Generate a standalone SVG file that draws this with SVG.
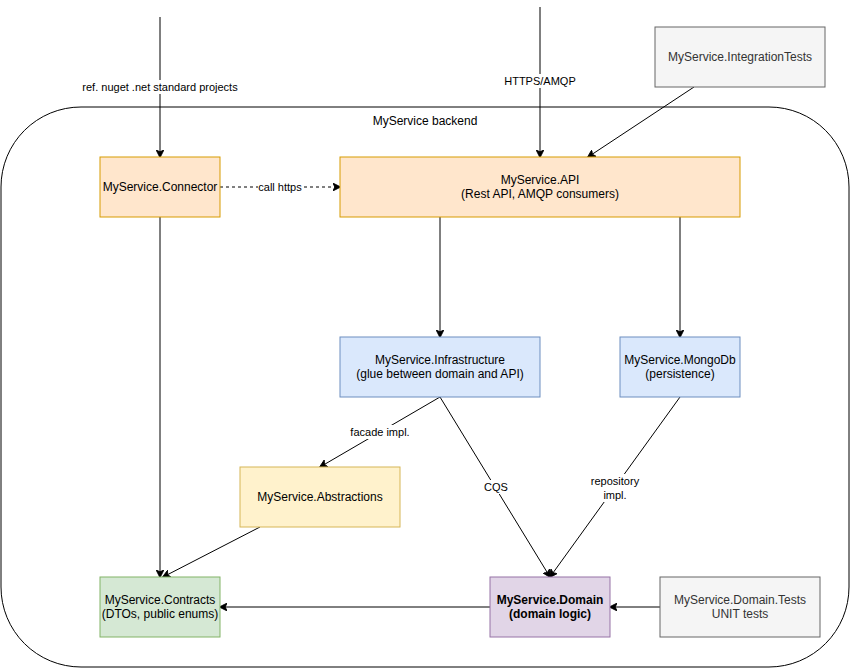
<svg xmlns="http://www.w3.org/2000/svg" width="851" height="668" viewBox="0 0 851 668">
<style>
text{font-family:"Liberation Sans",Arial,sans-serif;font-size:12px;fill:#000;text-anchor:middle}
text.s{font-size:11px}
.e{stroke:#000;stroke-width:1;fill:none;marker-end:url(#a)}
.lb{fill:#fff}
.or{fill:#ffe6cc;stroke:#d79b00}
.bl{fill:#dae8fc;stroke:#6c8ebf}
.ye{fill:#fff2cc;stroke:#d6b656}
.gr{fill:#d5e8d4;stroke:#82b366}
.pu{fill:#e1d5e7;stroke:#9673a6}
.gy{fill:#f5f5f5;stroke:#666666}
.gt{fill:#333333}
</style>
<defs>
<marker id="a" viewBox="0 0 10 10" refX="9" refY="5" markerWidth="8" markerHeight="8" markerUnits="userSpaceOnUse" orient="auto">
<path d="M0,0 L10,5 L0,10 L2.5,5 Z" fill="#000" stroke="#000"/>
</marker>
</defs>
<rect width="851" height="668" fill="#fff"/>
<g id="backend">
<rect x="1" y="107" width="848" height="560" rx="80" ry="80" fill="none" stroke="#000"/>
<text x="425" y="125">MyService backend</text>
</g>
<g id="connectors">
<path class="e" d="M160,17 L160,157"/>
<rect class="lb" x="82" y="80" width="156" height="14"/>
<text class="s" x="160" y="91">ref. nuget .net standard projects</text>
<path class="e" d="M540,7 L540,157"/>
<rect class="lb" x="504" y="74" width="72" height="14"/>
<text class="s" x="540" y="85">HTTPS/AMQP</text>
<path class="e" d="M694,87 L588,157"/>
<path class="e" d="M220,187 L340,187" stroke-dasharray="3 3"/>
<rect class="lb" x="258" y="180" width="44" height="14"/>
<text class="s" x="280" y="191">call https</text>
<path class="e" d="M440,217 L440,337"/>
<path class="e" d="M680,217 L680,337"/>
<path class="e" d="M160,217 L160,577"/>
<path class="e" d="M440,397 L320,467"/>
<rect class="lb" x="350" y="425" width="62" height="14"/>
<text class="s" x="380" y="436">facade impl.</text>
<path class="e" d="M440,397 L550,577"/>
<rect class="lb" x="483" y="480" width="26" height="14"/>
<text class="s" x="496" y="491">CQS</text>
<path class="e" d="M680,397 L550,577"/>
<rect class="lb" x="591" y="474" width="50" height="28"/>
<text class="s" x="615" y="485">repository</text>
<text class="s" x="615" y="499">impl.</text>
<path class="e" d="M260,527 L163,577"/>
<path class="e" d="M490,607 L220,607"/>
<path class="e" d="M660,607 L610,607"/>
</g>
<g id="integrationtests">
<rect class="gy" x="655" y="27" width="170" height="60"/>
<text class="gt" x="740" y="61">MyService.IntegrationTests</text>
</g>
<g id="connector">
<rect class="or" x="100" y="157" width="120" height="60"/>
<text x="160" y="191">MyService.Connector</text>
</g>
<g id="api">
<rect class="or" x="340" y="157" width="400" height="60"/>
<text x="540" y="184">MyService.API</text>
<text x="540" y="198">(Rest API, AMQP consumers)</text>
</g>
<g id="infrastructure">
<rect class="bl" x="340" y="337" width="200" height="60"/>
<text x="440" y="364">MyService.Infrastructure</text>
<text x="440" y="378">(glue between domain and API)</text>
</g>
<g id="mongodb">
<rect class="bl" x="620" y="337" width="120" height="60"/>
<text x="680" y="364">MyService.MongoDb</text>
<text x="680" y="378">(persistence)</text>
</g>
<g id="abstractions">
<rect class="ye" x="240" y="467" width="160" height="60"/>
<text x="320" y="501">MyService.Abstractions</text>
</g>
<g id="contracts">
<rect class="gr" x="100" y="577" width="120" height="60"/>
<text x="160" y="604">MyService.Contracts</text>
<text x="160" y="618">(DTOs, public enums)</text>
</g>
<g id="domain">
<rect class="pu" x="490" y="577" width="120" height="60"/>
<text x="550" y="604" font-weight="bold">MyService.Domain</text>
<text x="550" y="618" font-weight="bold">(domain logic)</text>
</g>
<g id="domaintests">
<rect class="gy" x="660" y="577" width="160" height="60"/>
<text class="gt" x="740" y="604">MyService.Domain.Tests</text>
<text class="gt" x="740" y="618">UNIT tests</text>
</g>
</svg>
